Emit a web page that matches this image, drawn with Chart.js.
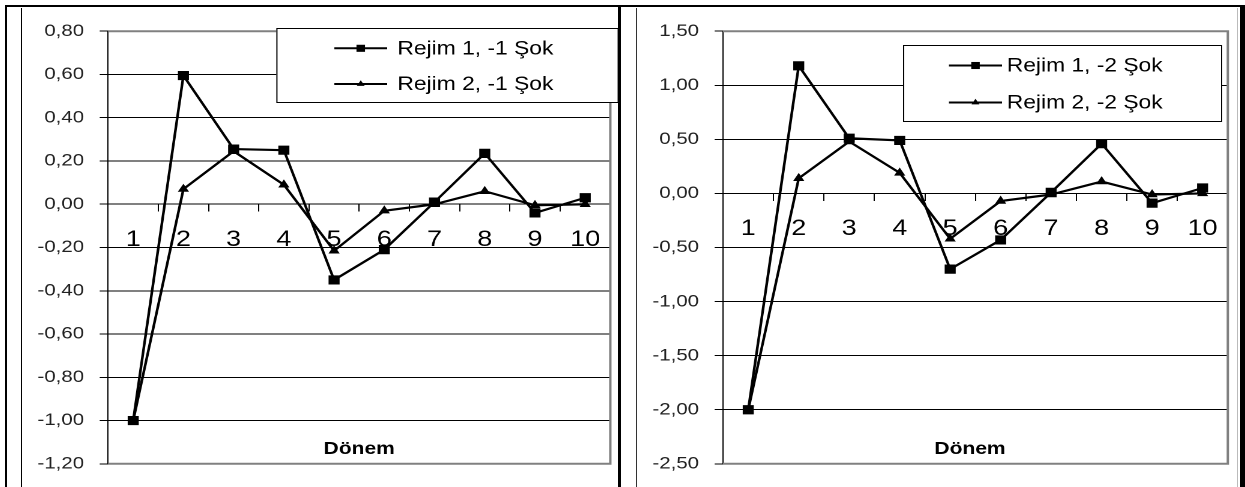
<!DOCTYPE html>
<html><head><meta charset="utf-8">
<script src="https://cdn.jsdelivr.net/npm/chart.js@4/dist/chart.umd.min.js"></script>
<style>
html,body{margin:0;padding:0;background:#fff;}
body{width:1245px;height:487px;position:relative;overflow:hidden;font-family:"Liberation Sans",Arial,sans-serif;}
.ln{position:absolute;background:#000;}
.wrap{position:absolute;transform-origin:0 0;transform:scaleX(1.2);}
.wrap canvas{display:block;}
</style></head><body>
<div class="ln" style="left:5px;top:5px;width:1240px;height:2px"></div>
<div class="ln" style="left:5px;top:5px;width:2px;height:482px"></div>
<div class="ln" style="left:618px;top:5px;width:3px;height:482px"></div>
<div class="ln" style="left:1240px;top:5px;width:5px;height:482px"></div>
<div class="ln" style="left:21px;top:8px;width:1px;height:479px"></div>
<div class="ln" style="left:636px;top:8px;width:1px;height:479px;background:#333"></div>
<div class="ln" style="left:1237px;top:8px;width:1px;height:479px;background:#bbb"></div>

<div class="wrap" style="left:22px;top:8px;width:496.67px;height:479px"><canvas id="c1"></canvas></div>
<div class="wrap" style="left:636px;top:8px;width:500px;height:479px"><canvas id="c2"></canvas></div>

<script>
// ---- data ----
const categories = ['1','2','3','4','5','6','7','8','9','10'];
const leftLabels = ['Rejim 1, -1 Şok', 'Rejim 2, -1 Şok'];
const leftRejim1 = [-1.00, 0.595, 0.255, 0.25, -0.35, -0.21, 0.01, 0.235, -0.04, 0.03];
const leftRejim2 = [-1.00, 0.07, 0.245, 0.09, -0.215, -0.03, 0.00, 0.06, -0.005, 0.00];
const rightLabels = ['Rejim 1, -2 Şok', 'Rejim 2, -2 Şok'];
const rightRejim1 = [-2.00, 1.18, 0.51, 0.49, -0.70, -0.43, 0.01, 0.46, -0.09, 0.05];
const rightRejim2 = [-2.00, 0.14, 0.48, 0.19, -0.42, -0.07, -0.01, 0.11, -0.01, 0.00];
const leftYRange = [-1.2, 0.8];
const leftYStep = 0.2;
const rightYRange = [-2.5, 1.5];
const rightYStep = 0.5;
const xTitle = 'Dönem';

const FONT = '"Liberation Sans", Arial, sans-serif';

function fmt(v){ if (Math.abs(v) < 1e-9) v = 0; return v.toFixed(2).replace('.', ','); }

function drawMarker(ctx, style, x, y, r){
  ctx.beginPath();
  if (style === 'rect'){ const h = r*Math.SQRT1_2; ctx.rect(x-h, y-h, 2*h, 2*h); }
  else {
    const a = 2*Math.PI/3;
    ctx.moveTo(x, y - r);
    ctx.lineTo(x + r*Math.sin(a), y - r*Math.cos(a));
    ctx.lineTo(x + r*Math.sin(2*a), y - r*Math.cos(2*a));
    ctx.closePath();
  }
  ctx.fill();
}

const decor = {
  id: 'decor',
  beforeDatasetsDraw(chart, args, o){
    const a = chart.chartArea, ctx = chart.ctx;
    ctx.save();
    ctx.strokeStyle = '#808080'; ctx.lineWidth = 2;
    ctx.beginPath();
    ctx.moveTo(a.left, a.top); ctx.lineTo(a.right, a.top);
    ctx.lineTo(a.right, a.bottom); ctx.lineTo(a.left, a.bottom);
    ctx.stroke();
    ctx.restore();
  },
  afterDatasetsDraw(chart, args, o){
    const ctx = chart.ctx, b = o.box;
    ctx.save();
    ctx.fillStyle = '#fff'; ctx.fillRect(b.x, b.y, b.w, b.h);
    ctx.strokeStyle = '#000'; ctx.lineWidth = 1;
    ctx.strokeRect(b.x + 0.5, b.y + 0.5, b.w, b.h);
    chart.data.datasets.forEach((ds, i) => {
      const y = b.y + o.rows[i];
      ctx.strokeStyle = '#000'; ctx.lineWidth = 2;
      ctx.beginPath(); ctx.moveTo(b.x + o.s1, y); ctx.lineTo(b.x + o.s2, y); ctx.stroke();
      ctx.fillStyle = '#000';
      drawMarker(ctx, ds.pointStyle, b.x + (o.s1 + o.s2)/2, y, o.markerR[i]);
      ctx.font = '19px ' + FONT; ctx.textBaseline = 'middle'; ctx.textAlign = 'left';
      ctx.fillText(ds.label, b.x + o.tx, y + 1);
    });
    ctx.restore();
  },
  afterDraw(chart, args, o){
    const a = chart.chartArea, ctx = chart.ctx;
    ctx.save();
    ctx.font = 'bold 17.5px ' + FONT; ctx.textAlign = 'center'; ctx.textBaseline = 'alphabetic';
    ctx.fillStyle = '#000';
    ctx.fillText(o.title, (a.left + a.right)/2 + o.titleDx, a.bottom - o.titleBottom);
    ctx.restore();
  }
};

function makeChart(id, labels, s1, s2, yRange, yStep, yWidth, legendCfg){
  return new Chart(document.getElementById(id), {
    type: 'line',
    data: {
      labels: categories,
      datasets: [
        { label: labels[0], data: s1, borderColor: '#000', backgroundColor: '#000', borderWidth: 2.2,
          pointStyle: 'rect', pointRadius: 5.8, pointBorderWidth: 1, pointBorderColor: '#000', pointBackgroundColor: '#000', tension: 0 },
        { label: labels[1], data: s2, borderColor: '#000', backgroundColor: '#000', borderWidth: 2.2,
          pointStyle: 'triangle', pointRadius: 4.4, pointBorderWidth: 1, pointBorderColor: '#000', pointBackgroundColor: '#000', tension: 0 }
      ]
    },
    options: {
      responsive: true, maintainAspectRatio: false, animation: false, devicePixelRatio: 2,
      layout: { padding: { top: 21, bottom: 17.5, left: 0, right: 1 } },
      plugins: { legend: { display: false }, tooltip: { enabled: false }, decor: legendCfg },
      scales: {
        x: {
          type: 'category', position: { y: 0 }, offset: true,
          grid: { display: true, drawOnChartArea: false, drawTicks: true, tickLength: 7, offset: true, color: '#000', lineWidth: 1 },
          border: { display: true, color: '#000', width: 1 },
          ticks: { font: { size: 22.5, family: FONT }, color: '#000', padding: 15, maxRotation: 0, autoSkip: false }
        },
        y: {
          min: yRange[0], max: yRange[1],
          afterFit(scale){ scale.width = yWidth; },
          grid: { color: '#000', lineWidth: 1, tickLength: 7, drawTicks: true },
          border: { display: true, color: '#000', width: 1 },
          ticks: { stepSize: yStep, font: { size: 17, family: FONT }, color: '#222', padding: 13, callback: v => fmt(v) }
        }
      }
    },
    plugins: [decor]
  });
}

makeChart('c1', leftLabels, leftRejim1, leftRejim2, leftYRange, leftYStep, 71.67, {
  box: { x: 211.7, y: 20, w: 284.1, h: 74 }, rows: [20.3, 56], s1: 48.3, s2: 92.3, tx: 100.8,
  markerR: [5, 3.8], title: xTitle, titleDx: 0, titleBottom: 10
});
makeChart('c2', rightLabels, rightRejim1, rightRejim2, rightYRange, rightYStep, 72.5, {
  box: { x: 222.5, y: 37, w: 265, h: 76 }, rows: [20.5, 57.5], s1: 38.3, s2: 82.5, tx: 86.5,
  markerR: [5, 3.8], title: xTitle, titleDx: -4.5, titleBottom: 10
});
</script>
</body></html>
